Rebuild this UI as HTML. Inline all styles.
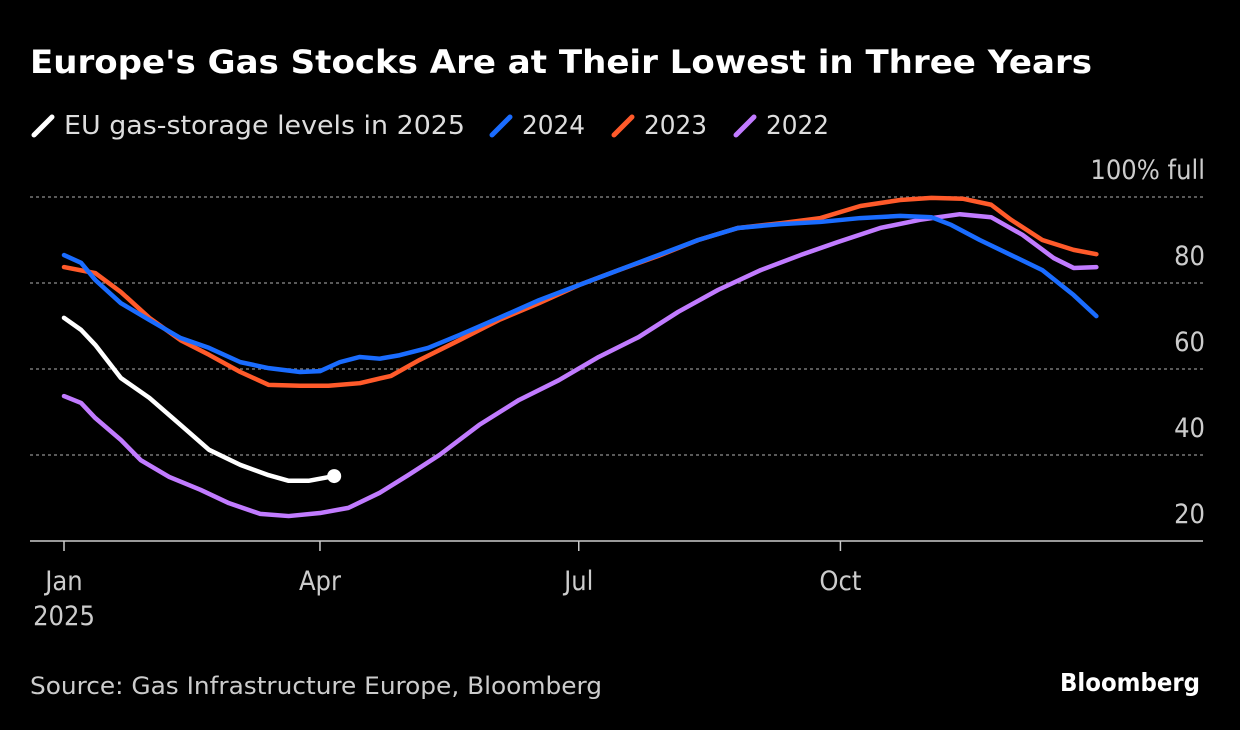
<!DOCTYPE html>
<html><head><meta charset="utf-8">
<style>
body{margin:0;background:#000;width:1240px;height:726px;overflow:hidden;font-family:"DejaVu Sans Condensed","DejaVu Sans","Liberation Sans",sans-serif;}
svg text{font-family:"DejaVu Sans Condensed","DejaVu Sans","Liberation Sans",sans-serif;}
</style></head>
<body>
<svg id="chart" width="1240" height="726">
<text x="30" y="73" fill="#fff" font-size="32" font-weight="bold" textLength="1062" lengthAdjust="spacingAndGlyphs">Europe's Gas Stocks Are at Their Lowest in Three Years</text>
<g>
<line x1="34" y1="135" x2="52" y2="117" stroke="#fff" stroke-width="5" stroke-linecap="round"/>
<text x="64" y="134" fill="#ddd" font-size="26" textLength="401" lengthAdjust="spacingAndGlyphs">EU gas-storage levels in 2025</text>
<line x1="492" y1="135" x2="510" y2="117" stroke="#1a6cff" stroke-width="5" stroke-linecap="round"/>
<text x="522" y="134" fill="#ddd" font-size="26" textLength="63" lengthAdjust="spacingAndGlyphs">2024</text>
<line x1="614" y1="135" x2="632" y2="117" stroke="#ff5a2a" stroke-width="5" stroke-linecap="round"/>
<text x="644" y="134" fill="#ddd" font-size="26" textLength="63" lengthAdjust="spacingAndGlyphs">2023</text>
<line x1="736" y1="135" x2="754" y2="117" stroke="#c17bff" stroke-width="5" stroke-linecap="round"/>
<text x="766" y="134" fill="#ddd" font-size="26" textLength="63" lengthAdjust="spacingAndGlyphs">2022</text>
</g>
<g id="axes"></g>
<g id="series"></g>
<text x="30" y="694" fill="#ccc" font-size="24" textLength="572" lengthAdjust="spacingAndGlyphs">Source: Gas Infrastructure Europe, Bloomberg</text>
<text x="1060" y="691" fill="#fff" font-size="25" font-weight="bold" textLength="140" lengthAdjust="spacingAndGlyphs">Bloomberg</text>
</svg>
<script>
const yTicks=[100,80,60,40,20];
const yTickLabels=["100% full","80","60","40","20"];
const xTickDays=[0,90,181,273];
const xTickLabels=["Jan","Apr","Jul","Oct"];
const days2024=[0,6,11,20,30,41,51,62,72,83,90,97,104,111,118,128,139,153,167,181,195,209,223,237,252,266,280,294,305,312,322,333,344,355,363];
const vals2024=[86.5,84.7,80.7,75.3,71.4,67.2,64.9,61.6,60.2,59.3,59.5,61.6,62.8,62.4,63.2,64.9,67.9,71.9,76,79.5,83,86.5,90,92.8,93.7,94.2,95.1,95.6,95.3,93.5,90,86.5,83,77.2,72.3];
const days2023=[0,11,20,30,41,51,62,72,83,93,104,115,125,139,153,167,181,195,209,223,237,252,266,280,294,305,316,326,333,344,355,363];
const vals2023=[83.7,82.3,77.9,71.9,66.7,63.3,59.3,56.3,56.1,56.1,56.7,58.4,62.1,66.7,71.4,75.3,79.5,83,86.3,90,92.8,93.9,95.1,97.9,99.3,99.8,99.6,98.2,94.7,90,87.7,86.7];
const days2022=[0,6,11,20,27,37,48,58,69,79,90,100,111,121,132,146,160,174,188,202,216,230,245,259,272,287,301,315,326,337,348,355,363];
const vals2022=[53.7,52.1,48.6,43.5,38.8,34.9,31.9,28.8,26.3,25.8,26.5,27.7,31.2,35.3,40,47,52.8,57.4,62.8,67.4,73.3,78.4,83,86.5,89.5,92.8,94.7,96,95.3,91.2,85.8,83.5,83.7];
const days2025=[0,6,11,20,30,41,51,62,72,79,86,95];
const vals2025=[71.9,69.1,65.6,57.9,53.3,47,41.2,37.7,35.3,34,34,35.1];

const x=d=>64+d*2.844;
const y=v=>197+(100-v)*4.3;
const NS="http://www.w3.org/2000/svg";
const axes=document.getElementById('axes'),ser=document.getElementById('series');
function mk(tag,attrs,parent){const e=document.createElementNS(NS,tag);for(const k in attrs)e.setAttribute(k,attrs[k]);parent.appendChild(e);return e;}
yTicks.forEach((t,i)=>{
  if(t>20){const g=mk('line',{x1:30,x2:1203,y1:y(t),y2:y(t),stroke:'#777','stroke-width':1.5,'stroke-dasharray':'3,3'},axes);
  
  }
  const l=mk('text',{x:1205,y:y(t)-18,fill:'#ccc','font-size':27,'text-anchor':'end'},axes);
  l.textContent=yTickLabels[i];
  
  
});
const ax=mk('line',{x1:30,x2:1203,y1:y(20),y2:y(20),stroke:'#ccc','stroke-width':1.5},axes);


xTickDays.forEach((d,i)=>{
  mk('line',{x1:x(d),x2:x(d),y1:y(20),y2:y(20)+10,stroke:'#ccc','stroke-width':1.5},axes);
  const l=mk('text',{x:x(d),y:590,fill:'#ccc','font-size':27,'text-anchor':'middle'},axes);
  l.textContent=xTickLabels[i];
  
  
});
const yr=mk('text',{x:x(0),y:625,fill:'#ccc','font-size':27,'text-anchor':'middle'},axes);
yr.textContent='2025';


function line(days,vals,color,name){
  const p=mk('polyline',{points:days.map((d,i)=>x(d)+','+y(vals[i])).join(' '),fill:'none',stroke:color,'stroke-width':4.5,'stroke-linejoin':'round','stroke-linecap':'round'},ser);
  
  
}
line(days2022,vals2022,'#c17bff','line-2022');
line(days2023,vals2023,'#ff5a2a','line-2023');
line(days2024,vals2024,'#1a6cff','line-2024');
line(days2025,vals2025,'#ffffff','line-2025');
const n=days2025.length-1;
const dot=mk('circle',{cx:x(days2025[n]),cy:y(vals2025[n]),r:7,fill:'#fff'},ser);


</script>
</body></html>
